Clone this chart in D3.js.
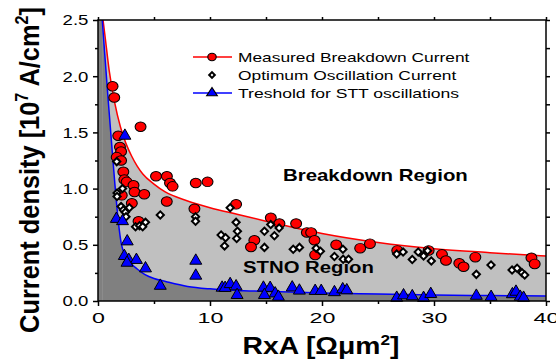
<!DOCTYPE html>
<html>
<head>
<meta charset="utf-8">
<script src="https://cdn.jsdelivr.net/npm/d3@7"></script>
<style>
  body { margin: 0; background: #fff; }
  text { font-family: Arial, "Liberation Sans", sans-serif; }
</style>
</head>
<body>
<div id="chart"></div>
<script>
"use strict";

// measured breakdown current (red circles)
var breakX = [1.3, 1.45, 3.8, 1.81, 1.96, 2.06, 1.67, 2.06, 2.26, 2.35, 2.56, 3.17, 3.26, 4.13, 2.12, 3.02, 3.62,
  5.18, 6.15, 6.43, 6.66, 8.73, 9.78, 6.14, 8.61, 12.33, 13.96, 13.66, 15.43, 16.2, 17.69, 18.65, 19.03, 19.33,
  19.39, 21.27, 23.41, 24.28, 26.72, 29.52, 30.71, 31.07, 32.26, 32.64, 33.69, 38.7, 38.99];
var breakY = [1.91, 1.81, 1.55, 1.47, 1.37, 1.33, 1.28, 1.25, 1.15, 1.08, 1.06, 1.03, 0.97, 0.95, 0.94, 0.87, 0.71,
  1.11, 1.11, 1.05, 1.02, 1.05, 1.06, 0.885, 0.82, 0.86, 0.54, 0.48, 0.74, 0.69, 0.69, 0.61, 0.61, 0.54,
  0.41, 0.50, 0.47, 0.51, 0.45, 0.45, 0.415, 0.36, 0.335, 0.305, 0.39, 0.385, 0.33];

// optimum oscillation current (diamonds)
var optX = [1.67, 1.7, 1.7, 2.19, 2.06, 2.26, 2.8, 2.44, 2.5, 3.35, 3.71, 4.24, 3.99, 5.56, 8.71, 8.71, 11.8, 12.33,
  12.45, 12.38, 10.99, 11.39, 11.3, 14.86, 14.86, 15.42, 15.75, 16.17, 17.43, 17.99, 19.48, 19.86, 21.11, 21.87,
  21.89, 22.37, 26.67, 27.24, 28.06, 28.59, 29.07, 29.43, 29.76, 33.78, 35.09, 36.97, 37.42, 37.86, 38.1];
var optY = [1.24, 0.96, 0.93, 1.0, 0.84, 0.81, 0.83, 0.79, 0.75, 0.66, 0.67, 0.70, 0.66, 0.765, 0.75, 0.71, 0.83, 0.70,
  0.62, 0.556, 0.587, 0.563, 0.49, 0.62, 0.477, 0.68, 0.58, 0.65, 0.46, 0.477, 0.47, 0.443, 0.396, 0.46,
  0.372, 0.371, 0.418, 0.436, 0.369, 0.436, 0.40, 0.447, 0.356, 0.237, 0.32, 0.276, 0.291, 0.252, 0.231];

// threshold for STT oscillations (triangles)
var threshX = [2.4, 1.64, 2.19, 2.61, 2.35, 2.75, 3.43, 2.59, 4.24, 5.56, 8.73, 8.73, 11.08, 11.35, 11.8, 12.33,
  12.42, 14.77, 15.37, 14.86, 15.82, 16.11, 17.34, 17.98, 19.39, 19.93, 21.11, 21.85, 22.21, 26.67, 27.28, 28.06,
  29.07, 29.71, 33.78, 35.1, 37.0, 37.32, 37.7, 38.0];
var threshY = [1.47, 0.73, 0.71, 0.53, 0.40, 0.365, 0.365, 0.34, 0.29, 0.135, 0.358, 0.225, 0.118, 0.116, 0.15, 0.13,
  0.053, 0.118, 0.116, 0.053, 0.067, 0.037, 0.12, 0.092, 0.089, 0.089, 0.078, 0.104, 0.095, 0.028, 0.05, 0.042,
  0.027, 0.062, 0.046, 0.036, 0.06, 0.082, 0.037, 0.028];

// boundary curves
var redCurveX = [0.45, 0.6, 1.0, 1.5, 2.0, 2.5, 3.0, 3.5, 4.0, 5.0, 6.0, 8.0, 10, 12.5, 15, 20, 25, 30, 35, 40];
var redCurveY = [2.5, 2.38, 2.05, 1.76, 1.55, 1.40, 1.29, 1.20, 1.13, 1.04, 0.97, 0.89, 0.83, 0.77, 0.71, 0.60, 0.52, 0.465, 0.43, 0.40];
var blueCurveX = [0.38, 0.6, 0.9, 1.2, 1.5, 1.8, 2.1, 2.5, 3.0, 3.5, 4.2, 5.0, 6.1, 8.0, 10, 13, 16.3, 20, 25, 30, 35, 40];
var blueCurveY = [2.5, 2.2, 1.8, 1.42, 1.05, 0.72, 0.50, 0.40, 0.33, 0.285, 0.235, 0.20, 0.172, 0.13, 0.108, 0.092, 0.082, 0.072, 0.062, 0.053, 0.048, 0.045];

var xTicks = [0, 10, 20, 30, 40];
var xMinor = [5, 15, 25, 35];
var yTicks = [0, 0.5, 1.0, 1.5, 2.0, 2.5];
var yMinor = [0.25, 0.75, 1.25, 1.75, 2.25];

var legendLabels = ["Measured Breakdown Current", "Optimum Oscillation Current", "Treshold for STT oscillations"];

var width = 556, height = 362;
var pLeft = 98, pRight = 546, pTop = 20, pBottom = 301;

var x = d3.scaleLinear().domain([0, 40]).range([pLeft, pRight]);
var y = d3.scaleLinear().domain([0, 2.5]).range([pBottom, pTop]);

function zip(xs, ys) {
  return xs.map(function (d, i) { return { x: d, y: ys[i] }; });
}

// stretch a text element (drawn at 0,0) to a target length
function fitText(t, tx, ty, target, rot, sy) {
  var w = t.node().getBBox().width;
  t.attr("transform", "translate(" + tx + "," + ty + ") rotate(" + rot + ") scale(" + (target / w) + "," + sy + ")");
}

var redCurve = zip(redCurveX, redCurveY);
var blueCurve = zip(blueCurveX, blueCurveY);

var svg = d3.select("#chart").append("svg")
  .attr("width", width)
  .attr("height", height);

svg.append("clipPath").attr("id", "plotclip")
  .append("rect")
  .attr("x", pLeft).attr("y", pTop)
  .attr("width", pRight - pLeft).attr("height", pBottom - pTop);

var regions = svg.append("g").attr("clip-path", "url(#plotclip)");

// light gray between the curves
regions.append("rect")
  .attr("x", pLeft).attr("y", pTop)
  .attr("width", pRight - pLeft).attr("height", pBottom - pTop)
  .attr("fill", "#c0c0c0");

// white above the breakdown curve
regions.append("path")
  .datum(redCurve)
  .attr("fill", "#ffffff")
  .attr("d", d3.area()
    .x(function (d) { return x(d.x); })
    .y0(y(2.5))
    .y1(function (d) { return y(d.y); })
    .curve(d3.curveMonotoneX));

// dark gray below the threshold curve
regions.append("rect")
  .attr("x", pLeft).attr("y", pTop)
  .attr("width", x(blueCurveX[0]) - pLeft).attr("height", pBottom - pTop)
  .attr("fill", "#808080");

regions.append("path")
  .datum(blueCurve)
  .attr("fill", "#808080")
  .attr("d", d3.area()
    .x(function (d) { return x(d.x); })
    .y0(y(0))
    .y1(function (d) { return y(d.y); })
    .curve(d3.curveMonotoneX));

var line = d3.line()
  .x(function (d) { return x(d.x); })
  .y(function (d) { return y(d.y); })
  .curve(d3.curveMonotoneX);

regions.append("path").datum(redCurve)
  .attr("fill", "none").attr("stroke", "#ff0000").attr("stroke-width", 1.5)
  .attr("d", line);

regions.append("path").datum(blueCurve)
  .attr("fill", "none").attr("stroke", "#0000ff").attr("stroke-width", 1.5)
  .attr("d", line);

// markers
var circleSym = d3.symbol().type(d3.symbolCircle).size(80);
var diamondSym = d3.symbol().type(d3.symbolSquare).size(26);
var triSym = d3.symbol().type(d3.symbolTriangle).size(62);

svg.append("g").selectAll("path")
  .data(zip(breakX, breakY))
  .enter().append("path")
  .attr("d", circleSym)
  .attr("transform", function (d) { return "translate(" + x(d.x) + "," + y(d.y) + ") scale(1.08,0.95)"; })
  .attr("fill", "#ff0000").attr("stroke", "#000").attr("stroke-width", 1);

svg.append("g").selectAll("path")
  .data(zip(optX, optY))
  .enter().append("path")
  .attr("d", diamondSym)
  .attr("transform", function (d) { return "translate(" + x(d.x) + "," + y(d.y) + ") rotate(45)"; })
  .attr("fill", "#fff").attr("stroke", "#000").attr("stroke-width", 2);

svg.append("g").selectAll("path")
  .data(zip(threshX, threshY))
  .enter().append("path")
  .attr("d", triSym)
  .attr("transform", function (d) { return "translate(" + x(d.x) + "," + y(d.y) + ")"; })
  .attr("fill", "#0000ff").attr("stroke", "#000").attr("stroke-width", 1);

// axes
function styleAxis(g, size, sx) {
  g.select(".domain").remove();
  g.selectAll(".tick line").attr("stroke", "#000").attr("stroke-width", 1.5);
  g.selectAll(".tick text").attr("font-size", size).attr("fill", "#000")
    .attr("font-family", "Arial, 'Liberation Sans', sans-serif")
    .attr("transform", "scale(" + sx + ",1)");
}

var gx = svg.append("g").attr("transform", "translate(0," + pBottom + ")")
  .call(d3.axisBottom(x).tickValues(xTicks).tickSize(5).tickPadding(6).tickFormat(d3.format("d")));
styleAxis(gx, "15.5px", 1.5);

var gxm = svg.append("g").attr("transform", "translate(0," + pBottom + ")")
  .call(d3.axisBottom(x).tickValues(xMinor).tickSize(3).tickFormat(""));
styleAxis(gxm, "15px", 1);

var gxt = svg.append("g").attr("transform", "translate(0," + pTop + ")")
  .call(d3.axisTop(x).tickValues(xTicks.concat(xMinor)).tickSize(3).tickFormat(""));
styleAxis(gxt, "15px", 1);

var gy = svg.append("g").attr("transform", "translate(" + pLeft + ",0)")
  .call(d3.axisLeft(y).tickValues(yTicks).tickSize(5).tickPadding(3).tickFormat(d3.format(".1f")));
styleAxis(gy, "15.5px", 1.2);

var gym = svg.append("g").attr("transform", "translate(" + pLeft + ",0)")
  .call(d3.axisLeft(y).tickValues(yMinor).tickSize(3).tickFormat(""));
styleAxis(gym, "15px", 1);

var gyr = svg.append("g").attr("transform", "translate(" + pRight + ",0)")
  .call(d3.axisRight(y).tickValues(yTicks.concat(yMinor)).tickSize(4).tickFormat(""));
styleAxis(gyr, "15px", 1);

svg.append("rect")
  .attr("x", pLeft).attr("y", pTop)
  .attr("width", pRight - pLeft).attr("height", pBottom - pTop)
  .attr("fill", "none").attr("stroke", "#000").attr("stroke-width", 1.5);

// region labels
var breakLab = svg.append("text")
  .attr("font-size", "16px").attr("font-weight", "bold")
  .text("Breakdown Region");
fitText(breakLab, 283, 181, 185, 0, 1);

var stnoLab = svg.append("text")
  .attr("font-size", "16px").attr("font-weight", "bold")
  .text("STNO Region");
fitText(stnoLab, 243, 273, 131, 0, 1);

// legend
var legend = svg.append("g");
var rows = [57, 75, 93];
var legendWidths = [232, 219, 222];
var smallCircle = d3.symbol().type(d3.symbolCircle).size(42);
var smallDiamond = d3.symbol().type(d3.symbolSquare).size(16);
var smallTri = d3.symbol().type(d3.symbolTriangle).size(38);

legend.append("line").attr("x1", 193).attr("x2", 232).attr("y1", rows[0]).attr("y2", rows[0])
  .attr("stroke", "#ff0000").attr("stroke-width", 1.5);
legend.append("path").attr("d", smallCircle)
  .attr("transform", "translate(212," + rows[0] + ") scale(1.15,1)")
  .attr("fill", "#ff0000").attr("stroke", "#000");

legend.append("path").attr("d", smallDiamond)
  .attr("transform", "translate(212," + rows[1] + ") rotate(45)")
  .attr("fill", "#fff").attr("stroke", "#000").attr("stroke-width", 2);

legend.append("line").attr("x1", 193).attr("x2", 232).attr("y1", rows[2]).attr("y2", rows[2])
  .attr("stroke", "#0000ff").attr("stroke-width", 1.5);
legend.append("path").attr("d", smallTri)
  .attr("transform", "translate(212," + rows[2] + ") scale(1.15,1)")
  .attr("fill", "#0000ff").attr("stroke", "#000");

legendLabels.forEach(function (lab, i) {
  var t = legend.append("text")
    .attr("font-size", "13px")
    .text(lab);
  fitText(t, 238, rows[i] + 5, legendWidths[i], 0, 1);
});

// axis titles
var yt = svg.append("text")
  .attr("text-anchor", "middle")
  .attr("font-size", "22px").attr("font-weight", "bold");
yt.append("tspan").text("Current density [10");
yt.append("tspan").attr("font-size", "14px").attr("dy", -9).text("7");
yt.append("tspan").attr("dy", 9).text(" A/cm");
yt.append("tspan").attr("font-size", "14px").attr("dy", -9).text("2");
yt.append("tspan").attr("dy", 9).text("]");
fitText(yt, 39, 170, 326, -90, 1.25);

var xt = svg.append("text")
  .attr("text-anchor", "middle")
  .attr("font-size", "23px").attr("font-weight", "bold");
xt.append("tspan").text("RxA [Ωμm");
xt.append("tspan").attr("font-size", "14px").attr("dy", -9).text("2");
xt.append("tspan").attr("dy", 9).text("]");
fitText(xt, 321, 354, 157, 0, 1);
</script>
</body>
</html>
